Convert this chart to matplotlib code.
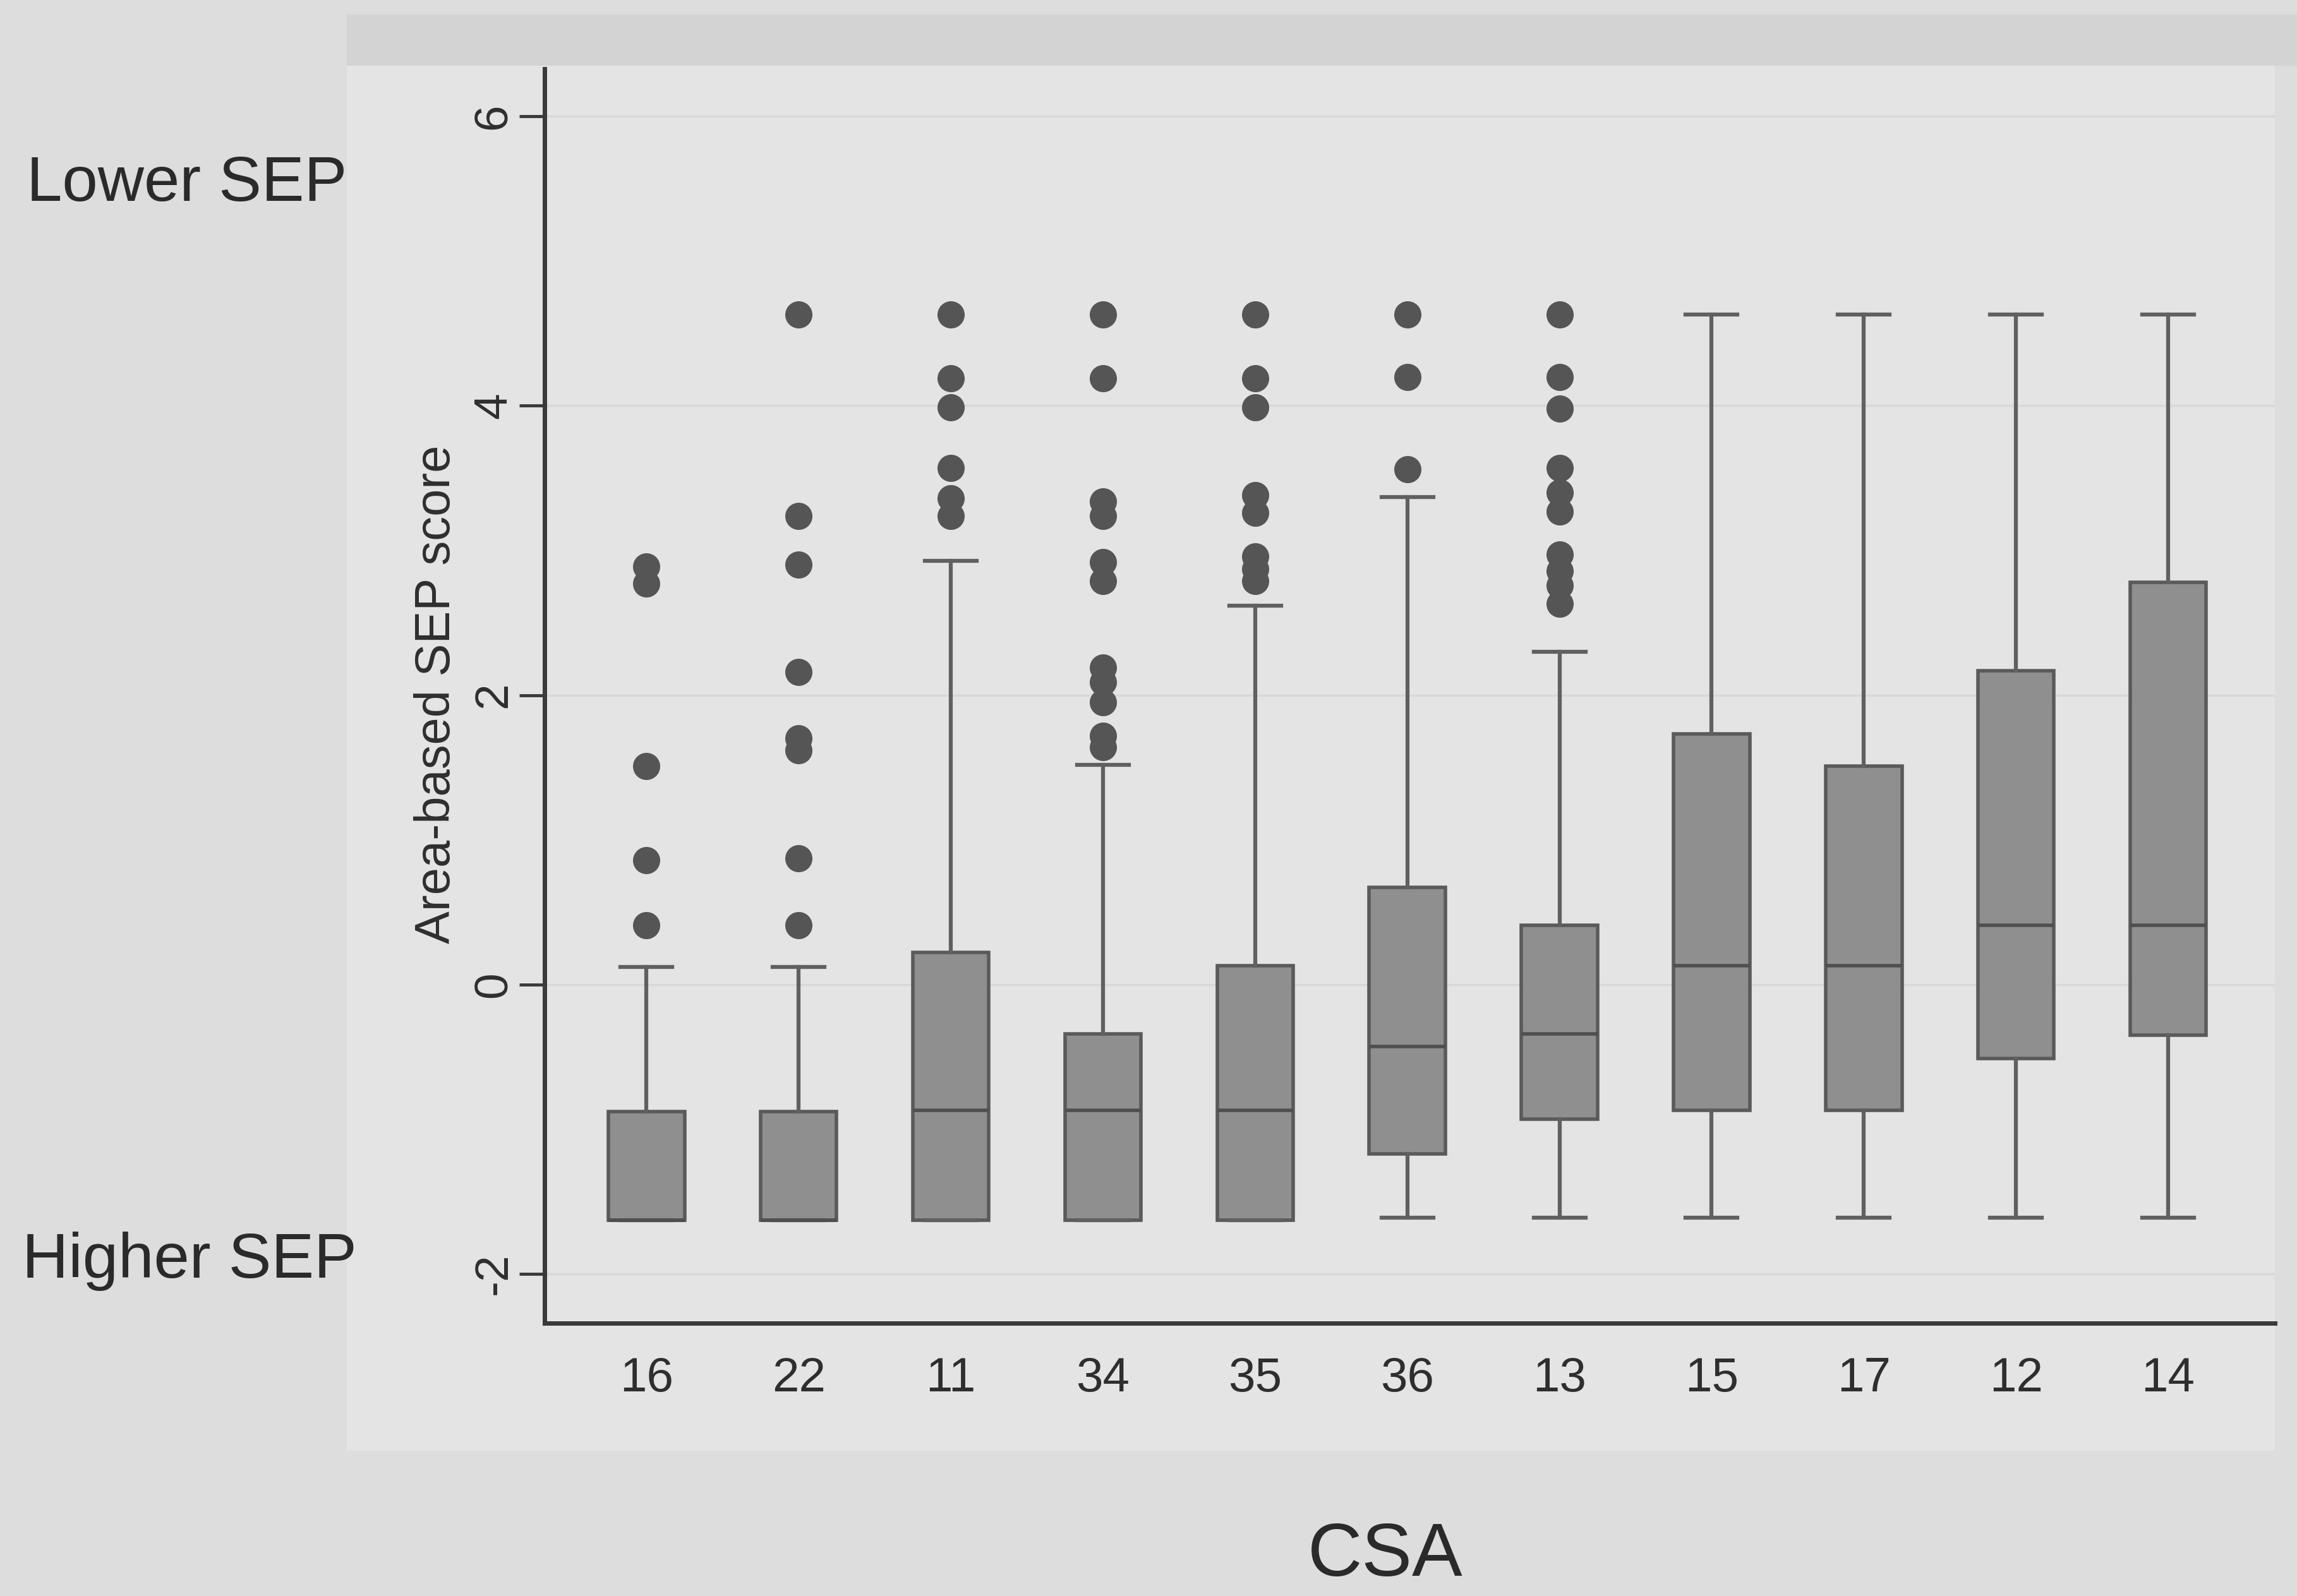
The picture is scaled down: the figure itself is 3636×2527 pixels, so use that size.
import matplotlib
matplotlib.use('Agg')
import matplotlib.pyplot as plt
from matplotlib.patches import Rectangle

# CSA groups, ordered as in the figure
csa = ['16', '22', '11', '34', '35', '36', '13', '15', '17', '12', '14']

# box statistics (area-based SEP score)
q1 = [-1.63, -1.63, -1.63, -1.63, -1.63, -1.17, -0.93, -0.87, -0.87, -0.51, -0.35]
med = [-1.63, -1.63, -0.87, -0.87, -0.87, -0.43, -0.34, 0.13, 0.13, 0.41, 0.41]
q3 = [-0.88, -0.88, 0.22, -0.34, 0.13, 0.67, 0.41, 1.73, 1.51, 2.17, 2.78]
whislo = [-1.63, -1.63, -1.63, -1.63, -1.63, -1.61, -1.61, -1.61, -1.61, -1.61, -1.61]
whishi = [0.12, 0.12, 2.93, 1.52, 2.62, 3.37, 2.30, 4.63, 4.63, 4.63, 4.63]

fl_16 = [2.89, 2.77, 1.51, 0.86, 0.41]
fl_22 = [4.63, 3.24, 2.90, 2.16, 1.70, 1.62, 0.87, 0.41]
fl_11 = [4.63, 4.19, 3.99, 3.57, 3.36, 3.24]
fl_34 = [4.63, 4.19, 3.34, 3.24, 2.92, 2.79, 2.19, 2.09, 1.95, 1.72, 1.64]
fl_35 = [4.63, 4.19, 3.99, 3.38, 3.26, 2.96, 2.87, 2.79]
fl_36 = [4.63, 4.20, 3.56]
fl_13 = [4.63, 4.20, 3.98, 3.57, 3.40, 3.27, 2.97, 2.86, 2.76, 2.63]
fliers = [fl_16, fl_22, fl_11, fl_34, fl_35, fl_36, fl_13, [], [], [], []]

yticks = [-2, 0, 2, 4, 6]

plt.rcParams['font.family'] = ['Liberation Sans', 'DejaVu Sans']

fig = plt.figure(figsize=(36.37, 25.27), dpi=100, facecolor='#dddddd')

# scanned-page look: slightly lighter panel behind the graph, darker strip on top
fig.add_artist(Rectangle((0.151, 0.091), 0.839, 0.868, transform=fig.transFigure,
                         facecolor='#e4e4e4', edgecolor='none', zorder=0))
fig.add_artist(Rectangle((0.151, 0.959), 0.849, 0.032, transform=fig.transFigure,
                         facecolor='#d3d3d3', edgecolor='none', zorder=0))

ax = fig.add_axes([0.237, 0.171, 0.753, 0.786])
ax.patch.set_alpha(0)

stats = []
for i, lab in enumerate(csa):
    stats.append(dict(label=lab, q1=q1[i], med=med[i], q3=q3[i],
                      whislo=whislo[i], whishi=whishi[i], fliers=fliers[i]))

ax.bxp(stats, positions=range(1, len(csa) + 1), widths=0.5, capwidths=0.34,
       patch_artist=True,
       boxprops=dict(facecolor='#8f8f8f', edgecolor='#5a5a5a', linewidth=4),
       medianprops=dict(color='#4f4f4f', linewidth=4),
       whiskerprops=dict(color='#606060', linewidth=4.5),
       capprops=dict(color='#606060', linewidth=4.5),
       flierprops=dict(marker='o', markersize=31, markerfacecolor='#555555',
                       markeredgecolor='none'))

for y in yticks:
    ax.axhline(y, color='#d8d8d8', lw=2.5, zorder=0)

ax.set_xlim(0.33, 11.70)
ax.set_ylim(-2.34, 6.33)
ax.set_yticks(yticks)
ax.set_yticklabels([str(t) for t in yticks], rotation=90, va='center')

for s in ['top', 'right']:
    ax.spines[s].set_visible(False)
for s in ['left', 'bottom']:
    ax.spines[s].set_color('#3a3a3a')
    ax.spines[s].set_linewidth(5)

ax.tick_params(axis='y', length=29, width=3.5, color='#3a3a3a', pad=4,
               labelsize=54, labelcolor='#2e2e2e')
ax.tick_params(axis='x', length=0, pad=38, labelsize=55, labelcolor='#2e2e2e')

fig.text(0.190, 0.565, 'Area-based SEP score', rotation=90, ha='center',
         va='center', fontsize=56, color='#2e2e2e')
fig.text(0.0115, 0.874, 'Lower SEP', ha='left', va='baseline',
         fontsize=73, color='#2a2a2a')
fig.text(0.0095, 0.1995, 'Higher SEP', ha='left', va='baseline',
         fontsize=73, color='#2a2a2a')
fig.text(0.603, 0.0125, 'CSA', ha='center', va='baseline',
         fontsize=86, color='#2a2a2a')

fig.savefig('out.png', dpi=100, facecolor=fig.get_facecolor())
